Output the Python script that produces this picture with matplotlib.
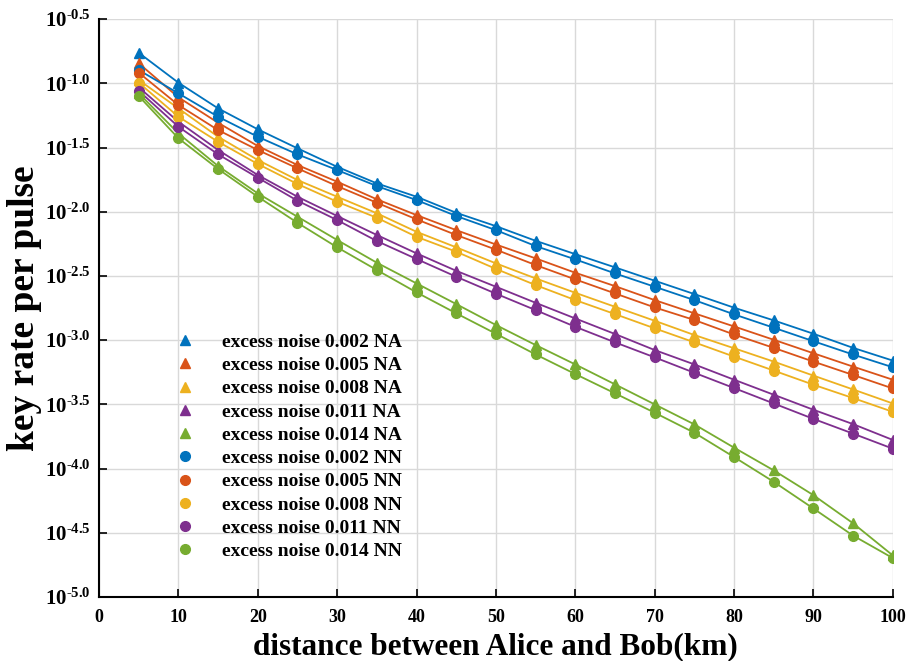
import numpy as np
import matplotlib
matplotlib.use("Agg")
import matplotlib.pyplot as plt
from matplotlib.lines import Line2D

plt.rcParams['font.family'] = ['Liberation Serif', 'DejaVu Serif']
plt.rcParams['font.weight'] = 'bold'
plt.rcParams['mathtext.fontset'] = 'custom'
plt.rcParams['mathtext.rm'] = 'Liberation Serif:bold'
plt.rcParams['mathtext.bf'] = 'Liberation Serif:bold'

# distance (km)
dist = [5, 10, 15, 20, 25, 30, 35, 40, 45, 50, 55, 60, 65, 70, 75, 80, 85, 90, 95, 100]

# log10 of key rate per pulse
na_002 = [-0.762, -0.995, -1.195, -1.358, -1.506, -1.650, -1.779, -1.883, -2.008, -2.112,
          -2.226, -2.330, -2.433, -2.537, -2.641, -2.747, -2.846, -2.950, -3.060, -3.159]
nn_002 = [-0.896, -1.078, -1.260, -1.416, -1.553, -1.675, -1.800, -1.909, -2.033, -2.143,
          -2.267, -2.371, -2.480, -2.584, -2.688, -2.799, -2.903, -3.008, -3.112, -3.211]
na_005 = [-0.844, -1.109, -1.307, -1.488, -1.636, -1.766, -1.903, -2.026, -2.143, -2.255,
          -2.363, -2.475, -2.579, -2.688, -2.791, -2.893, -2.997, -3.102, -3.206, -3.308]
nn_005 = [-0.917, -1.169, -1.364, -1.519, -1.662, -1.800, -1.930, -2.059, -2.181, -2.295,
          -2.415, -2.527, -2.636, -2.745, -2.843, -2.956, -3.060, -3.167, -3.271, -3.376]
na_008 = [-0.974, -1.195, -1.416, -1.597, -1.753, -1.883, -2.012, -2.156, -2.277, -2.402,
          -2.519, -2.631, -2.740, -2.849, -2.960, -3.063, -3.167, -3.276, -3.384, -3.493]
nn_008 = [-0.995, -1.260, -1.455, -1.628, -1.784, -1.922, -2.047, -2.195, -2.311, -2.445,
          -2.571, -2.688, -2.797, -2.908, -3.017, -3.128, -3.237, -3.347, -3.451, -3.558]
na_011 = [-1.031, -1.299, -1.519, -1.714, -1.883, -2.033, -2.181, -2.324, -2.460, -2.584,
          -2.709, -2.831, -2.952, -3.077, -3.189, -3.308, -3.425, -3.542, -3.654, -3.777]
nn_011 = [-1.058, -1.338, -1.553, -1.735, -1.914, -2.065, -2.228, -2.368, -2.506, -2.638,
          -2.766, -2.896, -3.017, -3.134, -3.254, -3.373, -3.493, -3.613, -3.728, -3.845]
na_014 = [-1.078, -1.390, -1.644, -1.857, -2.039, -2.220, -2.397, -2.558, -2.719, -2.882,
          -3.038, -3.189, -3.344, -3.500, -3.656, -3.837, -4.014, -4.207, -4.426, -4.676]
nn_014 = [-1.099, -1.428, -1.667, -1.883, -2.086, -2.277, -2.454, -2.628, -2.791, -2.950,
          -3.111, -3.264, -3.414, -3.565, -3.721, -3.910, -4.103, -4.311, -4.522, -4.697]

noise = ['0.002', '0.005', '0.008', '0.011', '0.014']
colors = ['#0072BD', '#D95319', '#EDB120', '#7E2F8E', '#77AC30']
na_series = [na_002, na_005, na_008, na_011, na_014]
nn_series = [nn_002, nn_005, nn_008, nn_011, nn_014]

ytick_exp = [-0.5, -1.0, -1.5, -2.0, -2.5, -3.0, -3.5, -4.0, -4.5, -5.0]

fig = plt.figure(figsize=(9.09, 6.61), dpi=100)
ax = fig.add_axes([0.109, 0.097, 0.873, 0.874])

handles = []
labels = []
# NA first (triangles), then NN (circles) on top
for c, n, s in zip(colors, noise, na_series):
    ax.plot(dist, 10 ** np.array(s), '-^', color=c, lw=1.3, ms=7.5, zorder=3)
    handles.append(Line2D([], [], ls='none', marker='^', color=c, ms=7.5))
    labels.append(f'excess noise {n} NA')
for c, n, s in zip(colors, noise, nn_series):
    ax.plot(dist, 10 ** np.array(s), '-o', color=c, lw=1.3, ms=7, zorder=3)
    handles.append(Line2D([], [], ls='none', marker='o', color=c, ms=7))
    labels.append(f'excess noise {n} NN')

ax.set_yscale('log')
ax.set_xlim(0, 100)
ax.set_ylim(10 ** -5.0, 10 ** -0.5)
ax.set_xticks(range(0, 101, 10))
ax.set_yticks([10 ** e for e in ytick_exp])
ax.set_yticklabels([r'$\mathbf{10^{\text{-}%.1f}}$' % abs(e) for e in ytick_exp])
ax.minorticks_off()
ax.tick_params(direction='in', length=6, width=1.2)
ax.tick_params(axis='x', labelsize=13, pad=9)
ax.tick_params(axis='y', labelsize=15, pad=6)
for lab in ax.get_xticklabels():
    lab.set_fontweight('bold')

ax.grid(True, color='#d9d9d9', lw=1)
ax.set_axisbelow(True)
for side in ['top', 'right']:
    ax.spines[side].set_visible(False)
for side in ['left', 'bottom']:
    ax.spines[side].set_linewidth(1.5)

ax.set_xlabel('distance between Alice and Bob(km)', fontsize=22.5, fontweight='bold', labelpad=4)
ax.set_ylabel('key rate per pulse', fontsize=27, fontweight='bold', labelpad=2)

ax.legend(handles, labels, loc='lower left', bbox_to_anchor=(0.074, 0.05), frameon=False,
          handlelength=2, handletextpad=0.9, labelspacing=0.29,
          borderaxespad=0, prop={'weight': 'bold', 'size': 14})

fig.savefig('out.png', dpi=100)
